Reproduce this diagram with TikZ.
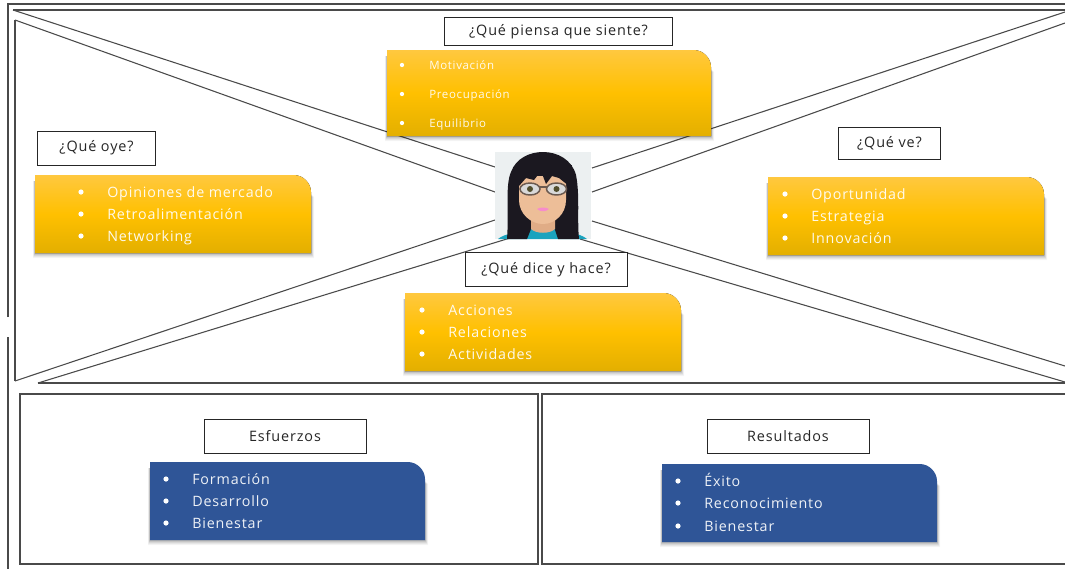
\documentclass[tikz,border=0pt]{standalone}
\usepackage{fontspec}
\setmainfont[LetterSpace=6]{Open Sans}
\usetikzlibrary{calc}
\definecolor{lineC}{HTML}{4A4A4A}
\definecolor{yTop}{HTML}{FFC83F}
\definecolor{yMid}{HTML}{FFC000}
\definecolor{yBot}{HTML}{E3AF00}
\definecolor{blueP}{HTML}{2F5597}
\definecolor{hairC}{HTML}{1B1820}
\definecolor{skinC}{HTML}{EDBE98}
\definecolor{neckC}{HTML}{E0AC86}
\definecolor{tealC}{HTML}{1AA3BE}
\definecolor{avBack}{HTML}{ECF0F1}
\definecolor{frameC}{HTML}{6B5A50}
\newcommand{\panelshadow}[4]{%
  \foreach \dd/\oo in {5/.04,4/.05,3/.06,2/.08,1/.10}{
    \fill[black,opacity=\oo] (#1-\dd*0.4,#2+6) -- (#3-12,#2+6) -- (#3+\dd*0.6,#2+22) -- (#3+\dd*0.6,#4+\dd) -- (#1-\dd*0.4,#4+\dd) -- cycle;
  }}
\newcommand{\yellowpanel}[4]{\panelshadow{#1}{#2}{#3}{#4}%
  \fill[top color=yTop,bottom color=yBot,middle color=yMid] (#1,#2) -- (#3-17,#2) .. controls (#3-8,#2) and (#3,#2+8) .. (#3,#2+17) -- (#3,#4) -- (#1,#4) -- cycle;}
\newcommand{\bluepanel}[4]{\panelshadow{#1}{#2}{#3}{#4}%
  \fill[blueP] (#1,#2) -- (#3-17,#2) .. controls (#3-8,#2) and (#3,#2+8) .. (#3,#2+17) -- (#3,#4) -- (#1,#4) -- cycle;}
\tikzset{
  frameline/.style={draw=lineC,line width=0.8pt},
  labelbox/.style={draw=black!85,line width=0.75pt,fill=white,inner sep=0pt,font=\fontsize{10.8}{12}\selectfont,text=black!85},
  itemtext/.style={anchor=west,inner sep=0pt,text height=11pt,text depth=2.4pt,text=white,font=\fontsize{10.7}{12}\selectfont,text opacity=.92},
  itemsmall/.style={anchor=west,inner sep=0pt,text height=8.1pt,text depth=2pt,text=white,font=\fontsize{8.6}{10}\selectfont,text opacity=.92},
  bulletdot/.style={circle,fill=white,inner sep=0pt,minimum size=3.9pt},
  bulletsmall/.style={circle,fill=white,inner sep=0pt,minimum size=3.2pt}
}
\begin{document}
\begin{tikzpicture}[x=0.75pt,y=-0.75pt]
\useasboundingbox (0,0) rectangle (1065,569);
\fill[white] (0,0) rectangle (1065,569);

% frame
\draw[frameline] (8,317) -- (8,4) -- (1065,4);
\draw[frameline] (8,337) -- (8,569);
\draw[frameline] (13,10) -- (1065,10);
\draw[frameline] (15,20) -- (15,381);
\draw[frameline] (38,383) -- (1065,383);

% corner points of the diagonals
\coordinate (ca1) at (13,10);   \coordinate (ca2) at (15,20);
\coordinate (cb1) at (1065,12); \coordinate (cb2) at (1065,23);
\coordinate (cc1) at (15,381);  \coordinate (cc2) at (38,383);
\coordinate (cd1) at (1065,366);\coordinate (cd2) at (1065,382);
\coordinate (ma1) at (495,167); \coordinate (ma2) at (495,192);
\coordinate (mb1) at (592,168); \coordinate (mb2) at (592,192);
\coordinate (mc1) at (495,220); \coordinate (mc2) at (510,238);
\coordinate (md1) at (592,221); \coordinate (md2) at (580,239);
\draw[frameline] (ca1) -- (ma1);
\draw[frameline] (ca2) -- (ma2);
\draw[frameline] (cb1) -- (mb1);
\draw[frameline] (cb2) -- (mb2);
\draw[frameline] (cc1) -- (mc1);
\draw[frameline] (cc2) -- (mc2);
\draw[frameline] (cd1) -- (md1);
\draw[frameline] (cd2) -- (md2);

% bottom panels
\draw[frameline] (20,394) rectangle (538,564);
\draw[frameline] (1065,394) -- (542,394) -- (542,564) -- (1065,564);

% avatar
\begin{scope}
  \clip (495,152) rectangle (591,239);
  \fill[avBack] (495,152) rectangle (591,239);
  \foreach \sx/\sy in {503,165,512,186,499,200,532,157,572,157,583,182,584,205,505,218,578,214,587,165}
    \fill[white] (\sx,\sy) circle (2);
  % shirt
  \fill[tealC] (498,239) .. controls (505,233) and (520,232) .. (530,229) -- (556,229) .. controls (566,232) and (580,233) .. (587,239) -- cycle;
  % hair
  \fill[hairC] (507,239) .. controls (509,215) and (505,185) .. (511,172)
     .. controls (516,158) and (530,152) .. (543,152)
     .. controls (558,152) and (572,160) .. (576,175)
     .. controls (580,195) and (577,220) .. (579,239) -- (558,239) -- (553,224) -- (533,224) -- (527,239) -- cycle;
  % neck
  \fill[neckC] (531,214) -- (555,214) -- (555,229) .. controls (550,234) and (536,234) .. (531,229) -- cycle;
  % face
  \fill[skinC] (519,176) -- (566,176) -- (566,200) .. controls (566,214) and (555,224) .. (543,224)
     .. controls (531,224) and (519,214) .. (519,200) -- cycle;
  % bangs
  \fill[hairC] (515,165) -- (572,165) -- (569,186) -- (559,178) -- (552,176) -- (546,184) -- (541,171) -- (534,180) -- (526,178) -- (519,186) -- cycle;
  % glasses
  \fill[gray!30!white] (530,189) ellipse (10 and 6);
  \fill[gray!30!white] (556.5,189) ellipse (10 and 6);
  \fill[black!55!olive] (530,189) circle (3);
  \fill[black!55!olive] (556.5,189) circle (3);
  \draw[frameC,line width=1.1pt] (530,189) ellipse (10 and 6);
  \draw[frameC,line width=1.1pt] (556.5,189) ellipse (10 and 6);
  \draw[frameC,line width=1pt] (540,187) -- (546.5,187);
  % lips
  \fill[magenta!45!white] (537,209) .. controls (540,207) and (546,207) .. (549,209) .. controls (546,212) and (540,212) .. (537,209) -- cycle;
\end{scope}

% yellow panels
\yellowpanel{387}{50}{711}{136}
\yellowpanel{35}{175}{311}{253}
\yellowpanel{768}{177}{1044}{255}
\yellowpanel{405}{293}{681}{371}
\bluepanel{150}{462}{425}{540}
\bluepanel{662}{464}{937}{542}

% labels
\node[labelbox,minimum width=171.5pt,minimum height=21.5pt] (lbTop) at (558.5,31.5) {¿Qué piensa que siente?};
\node[labelbox,minimum width=89pt,minimum height=25.5pt] (lbLeft) at (96.5,148) {¿Qué oye?};
\node[labelbox,minimum width=77pt,minimum height=24.5pt] (lbRight) at (889.5,143.5) {¿Qué ve?};
\node[labelbox,minimum width=121.5pt,minimum height=26pt] (lbBottom) at (546,269.5) {¿Qué dice y hace?};
\node[labelbox,minimum width=121.5pt,minimum height=26pt] (lbEsf) at (285,436.5) {Esfuerzos};
\node[labelbox,minimum width=121.5pt,minimum height=26pt] (lbRes) at (788,436.5) {Resultados};

% items top
\node[bulletsmall] (bt1) at (402,65) {};
\node[bulletsmall] (bt2) at (402,94) {};
\node[bulletsmall] (bt3) at (402,123) {};
\node[itemsmall] (it1) at (429,65) {Motivación};
\node[itemsmall] (it2) at (429,94) {Preocupación};
\node[itemsmall] (it3) at (429,123) {Equilibrio};
% items left
\node[bulletdot] (bl1) at (81,192) {};
\node[bulletdot] (bl2) at (81,214) {};
\node[bulletdot] (bl3) at (81,236) {};
\node[itemtext] (il1) at (107,192) {Opiniones de mercado};
\node[itemtext] (il2) at (107,214) {Retroalimentación};
\node[itemtext] (il3) at (107,236) {Networking};
% items right
\node[bulletdot] (br1) at (785,194) {};
\node[bulletdot] (br2) at (785,216) {};
\node[bulletdot] (br3) at (785,238) {};
\node[itemtext] (ir1) at (811,194) {Oportunidad};
\node[itemtext] (ir2) at (811,216) {Estrategia};
\node[itemtext] (ir3) at (811,238) {Innovación};
% items bottom
\node[bulletdot] (bb1) at (422,310) {};
\node[bulletdot] (bb2) at (422,332) {};
\node[bulletdot] (bb3) at (422,354) {};
\node[itemtext] (ib1) at (448,310) {Acciones};
\node[itemtext] (ib2) at (448,332) {Relaciones};
\node[itemtext] (ib3) at (448,354) {Actividades};
% items esfuerzos
\node[bulletdot] (be1) at (166,479) {};
\node[bulletdot] (be2) at (166,501) {};
\node[bulletdot] (be3) at (166,523) {};
\node[itemtext] (ie1) at (192,479) {Formación};
\node[itemtext] (ie2) at (192,501) {Desarrollo};
\node[itemtext] (ie3) at (192,523) {Bienestar};
% items resultados
\node[bulletdot] (bs1) at (678,481) {};
\node[bulletdot] (bs2) at (678,503) {};
\node[bulletdot] (bs3) at (678,526) {};
\node[itemtext] (is1) at (704,481) {Éxito};
\node[itemtext] (is2) at (704,503) {Reconocimiento};
\node[itemtext] (is3) at (704,526) {Bienestar};
\end{tikzpicture}
\end{document}
